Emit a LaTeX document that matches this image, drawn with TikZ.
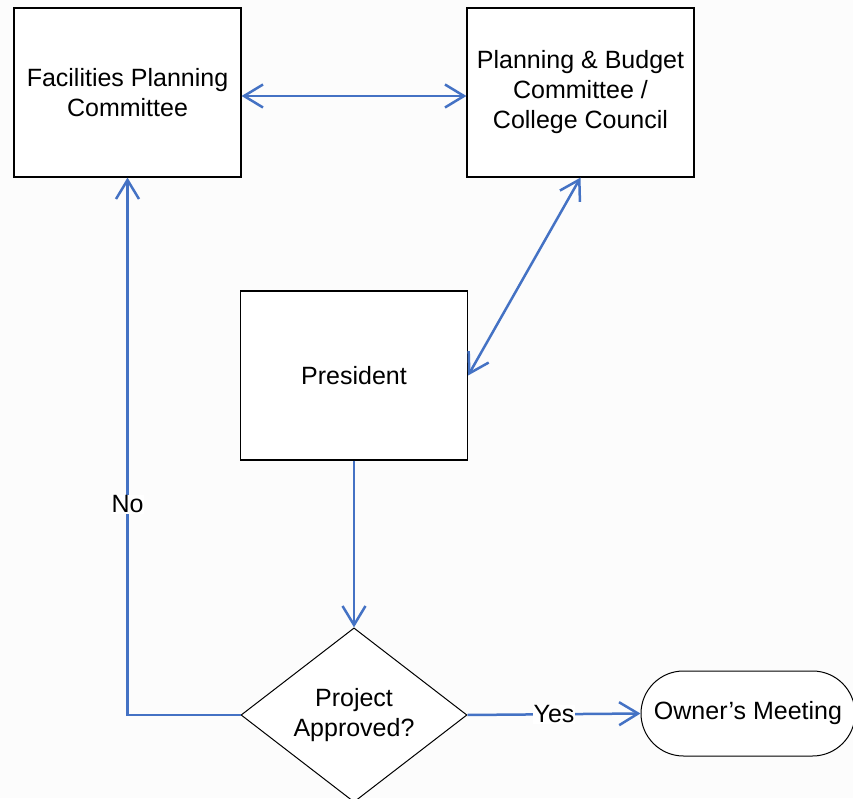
\documentclass[tikz,border=0pt]{standalone}
\usepackage{fontspec}
\setmainfont{Liberation Sans}
\usetikzlibrary{arrows.meta,shapes.geometric,shapes.misc}
\definecolor{linkblue}{RGB}{68,114,196}
\definecolor{bggray}{RGB}{252,252,252}
\tikzset{
  procbox/.style={draw=black, line width=1.2pt, fill=white, minimum width=227pt, minimum height=169pt, inner sep=0pt, align=center, font=\fontsize{25}{30}\selectfont},
  decbox/.style={draw=black, line width=1pt, fill=white, diamond, minimum width=226pt, minimum height=168pt, inner sep=0pt, align=center, font=\fontsize{25}{30}\selectfont},
  termbox/.style={draw=black, line width=1pt, fill=white, rounded rectangle, minimum width=214pt, minimum height=85pt, inner sep=0pt, align=center, font=\fontsize{25}{30}\selectfont},
  link/.style={draw=linkblue, line width=2.5pt, arrows={-Straight Barb[length=19pt,width=23pt,line width=2.5pt]}},
  dlink/.style={draw=linkblue, line width=2.5pt, arrows={Straight Barb[length=19pt,width=23pt,line width=2.5pt]-Straight Barb[length=19pt,width=23pt,line width=2.5pt]}},
  lbl/.style={fill=white, inner sep=1pt, text=black, font=\fontsize{25}{30}\selectfont}
}
\begin{document}
\begin{tikzpicture}[x=1pt,y=1pt]
\fill[bggray] (0,0) rectangle (853,798);
\useasboundingbox (0,0) rectangle (853,798);
\begin{scope}
\clip (0,0) rectangle (853,798);
\node[procbox] (fac) at (127.5,705.5) {Facilities Planning\\Committee};
\node[procbox] (pb) at (580.5,705.5) {Planning \& Budget\\Committee /\\College Council};
\node[procbox] (pres) at (354,422.5) {President};
\node[decbox] (dec) at (354,83) {Project\\Approved?};
\node[termbox] (own) at (748,84.5) {Owner’s Meeting};
\draw[dlink] ([yshift=-3.5pt]fac.east) -- ([yshift=-3.5pt]pb.west);
\draw[dlink] (pb.south) -- (pres.east);
\draw[link] (pres.south) -- (dec.north);
\draw[link] (dec.west) -| node[lbl, pos=0.696] {No} (fac.south);
\draw[link] (dec.east) -- node[lbl, pos=0.5] {Yes} (own.west);
\end{scope}
\end{tikzpicture}
\end{document}
